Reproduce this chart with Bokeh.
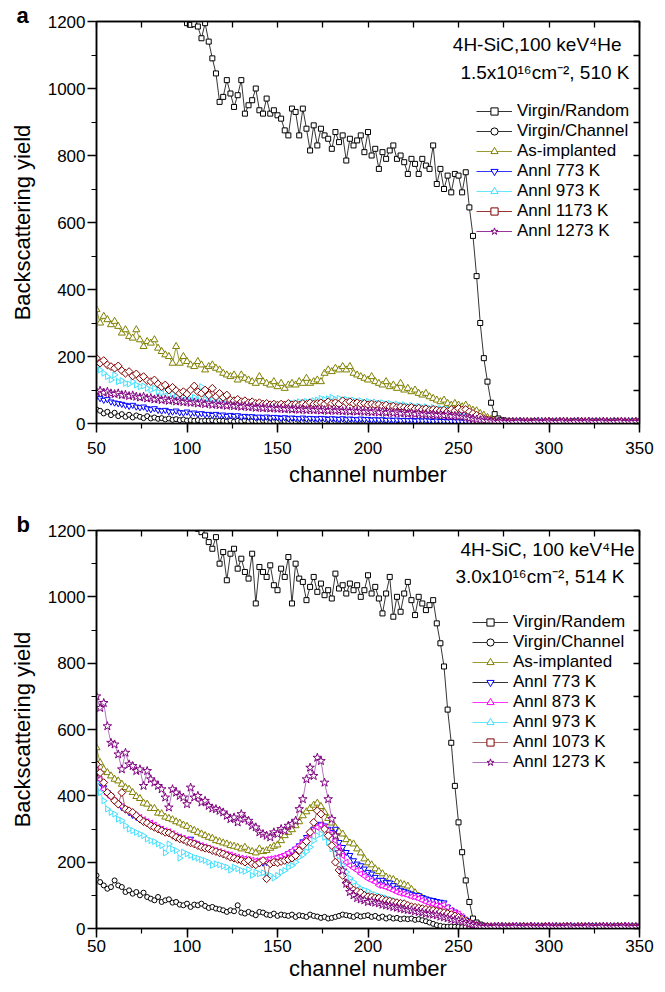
import math
from bokeh.plotting import figure
from bokeh.models import (Range1d, LinearAxis, SingleIntervalTicker, FixedTicker, Legend,
                          LegendItem, Label, Title)
from bokeh.layouts import column
from bokeh.embed import file_html
from bokeh.resources import INLINE

# channel numbers (every 2nd channel, 50..350)
CHANNELS = list(range(50, 351, 2))
# tick marks of the mirrored (label-less) top and right axes
TOP_TICKS = [50, 75, 100, 125, 150, 175, 200, 225, 250, 275, 300, 325, 350]
RIGHT_TICKS = [0, 100, 200, 300, 400, 500, 600, 700, 800, 900, 1000, 1100, 1200]

# ---------------- panel a : 1.5e16 cm-2, 510 K ----------------
A_RANDOM = [1350, 1345, 1340, 1335, 1330, 1325, 1320, 1315, 1310, 1305,
            1300, 1295, 1290, 1285, 1280, 1275, 1270, 1265, 1260, 1255,
            1250, 1240, 1230, 1220, 1210, 1195, 1190, 1192, 1185, 1150,
            1195, 1140, 1090, 1045, 960, 975, 1025, 985, 945, 980,
            1025, 925, 950, 965, 1000, 935, 925, 970, 925, 935,
            920, 910, 875, 860, 940, 930, 860, 940, 880, 815,
            890, 830, 880, 860, 850, 820, 870, 840, 860, 785,
            850, 830, 845, 860, 810, 870, 800, 820, 760, 810,
            790, 815, 830, 790, 800, 780, 745, 790, 775, 745,
            790, 770, 760, 830, 715, 760, 700, 740, 690, 745,
            740, 690, 750, 645, 560, 440, 300, 195, 125, 62,
            28, 15, 10, 8, 6, 5, 5, 6, 5, 4,
            5, 6, 5, 4, 5, 5, 6, 4, 5, 5,
            4, 5, 6, 5, 5, 4, 5, 5, 6, 5,
            5, 4, 5, 6, 5, 5, 4, 5, 5, 6,
            5]
A_CHANNEL = [42, 38, 30, 35, 25, 32, 22, 28, 20, 26,
             18, 24, 20, 16, 22, 15, 18, 14, 16, 12,
             15, 11, 13, 10, 12, 9, 10, 8, 10, 7,
             9, 8, 10, 7, 9, 8, 7, 9, 6, 8,
             7, 9, 6, 8, 7, 6, 8, 7, 5, 7,
             6, 8, 7, 5, 7, 6, 8, 6, 5, 7,
             6, 5, 7, 6, 8, 5, 6, 7, 5, 6,
             7, 5, 6, 8, 5, 6, 7, 5, 6, 5,
             7, 6, 5, 6, 7, 5, 6, 5, 7, 6,
             5, 6, 5, 7, 5, 6, 5, 6, 5, 5,
             6, 5, 5, 6, 4, 5, 5, 4, 5, 5,
             4, 5, 5, 4, 5, 5, 4, 5, 5, 4,
             5, 4, 5, 5, 4, 5, 5, 4, 5, 5,
             4, 5, 5, 4, 5, 4, 5, 5, 4, 5,
             5, 4, 5, 5, 4, 5, 5, 4, 5, 5,
             4]
A_ASIMPL = [340, 300, 320, 310, 295, 305, 290, 270, 280, 260,
            255, 280, 250, 230, 245, 240, 250, 225, 215, 205,
            200, 180, 230, 180, 200, 185, 175, 170, 185, 175,
            160, 170, 175, 165, 160, 150, 145, 140, 145, 130,
            145, 135, 130, 125, 120, 140, 125, 120, 115, 125,
            110, 120, 105, 115, 120, 115, 125, 120, 135, 120,
            125, 130, 125, 150, 160, 155, 165, 160, 170, 160,
            170, 150, 145, 140, 135, 130, 140, 125, 120, 115,
            125, 110, 115, 105, 120, 100, 105, 95, 100, 90,
            85, 90, 80, 75, 70, 65, 70, 60, 55, 60,
            55, 50, 55, 45, 40, 38, 30, 25, 18, 13,
            9, 7, 6, 5, 5, 6, 5, 4, 5, 5,
            5, 5, 4, 5, 6, 5, 5, 4, 5, 5,
            6, 5, 4, 5, 5, 5, 6, 5, 4, 5,
            5, 5, 6, 4, 5, 5, 4, 5, 6, 5,
            5]
A_773 = [80, 75, 70, 72, 65, 62, 60, 58, 55, 52,
         55, 50, 48, 50, 45, 42, 45, 40, 38, 40,
         36, 35, 38, 33, 32, 35, 30, 32, 28, 30,
         27, 28, 25, 28, 24, 26, 22, 25, 22, 24,
         20, 22, 20, 21, 18, 20, 18, 20, 17, 19,
         18, 16, 18, 15, 17, 16, 15, 17, 14, 16,
         15, 14, 16, 15, 13, 15, 14, 13, 15, 12,
         14, 13, 12, 14, 12, 13, 11, 12, 11, 12,
         10, 11, 10, 11, 9, 10, 9, 10, 8, 9,
         8, 9, 8, 7, 8, 7, 7, 6, 7, 6,
         6, 5, 6, 5, 5, 4, 5, 5, 4, 5,
         5, 4, 5, 5, 6, 5, 4, 5, 5, 4,
         5, 5, 4, 5, 5, 6, 5, 4, 5, 5,
         4, 5, 5, 6, 5, 4, 5, 5, 4, 5,
         5, 4, 5, 5, 6, 5, 4, 5, 5, 4,
         5]
A_973 = [170, 160, 150, 140, 130, 145, 125, 128, 120, 118,
         125, 115, 110, 112, 105, 100, 105, 95, 92, 95,
         85, 88, 80, 78, 82, 75, 72, 78, 70, 110,
         72, 68, 70, 65, 68, 62, 65, 60, 62, 58,
         60, 56, 58, 55, 57, 54, 56, 53, 55, 52,
         54, 55, 58, 56, 60, 62, 65, 63, 66, 64,
         68, 70, 75, 72, 74, 78, 72, 75, 70, 72,
         68, 70, 66, 68, 64, 66, 62, 64, 60, 62,
         58, 60, 56, 58, 54, 56, 52, 54, 50, 52,
         48, 50, 46, 48, 44, 45, 42, 43, 40, 40,
         38, 36, 34, 30, 26, 22, 17, 13, 10, 8,
         6, 5, 5, 4, 5, 5, 6, 5, 4, 5,
         5, 4, 5, 6, 5, 5, 4, 5, 5, 6,
         5, 5, 4, 5, 6, 5, 5, 4, 5, 5,
         4, 5, 5, 6, 5, 4, 5, 5, 6, 5,
         5]
A_1173 = [195, 180, 188, 175, 170, 165, 172, 158, 150, 155,
          142, 148, 135, 140, 128, 125, 130, 118, 110, 115,
          100, 108, 98, 90, 95, 88, 100, 112, 95, 90,
          100, 85, 105, 80, 90, 78, 85, 70, 68, 72,
          65, 68, 62, 65, 60, 62, 58, 60, 56, 58,
          55, 58, 55, 60, 56, 58, 55, 60, 57, 62,
          58, 60, 62, 58, 65, 60, 62, 58, 68, 62,
          65, 60, 62, 58, 60, 56, 58, 55, 57, 52,
          55, 50, 52, 48, 50, 48, 46, 48, 44, 46,
          42, 44, 40, 42, 40, 38, 40, 36, 42, 38,
          45, 40, 42, 35, 30, 25, 20, 15, 11, 8,
          6, 5, 5, 4, 5, 6, 5, 5, 4, 5,
          5, 6, 5, 4, 5, 5, 4, 5, 6, 5,
          4, 5, 5, 5, 6, 4, 5, 5, 5, 4,
          5, 5, 4, 6, 5, 5, 5, 4, 5, 6,
          5]
A_1273 = [95, 98, 92, 95, 90, 88, 90, 85, 86, 82,
          84, 80, 78, 80, 75, 76, 72, 74, 70, 72,
          68, 70, 66, 67, 64, 65, 62, 63, 60, 62,
          58, 60, 56, 58, 55, 56, 53, 55, 52, 53,
          50, 52, 49, 50, 47, 48, 46, 47, 45, 46,
          44, 45, 43, 44, 42, 43, 41, 42, 40, 42,
          40, 41, 39, 40, 38, 40, 38, 39, 37, 38,
          36, 38, 36, 37, 35, 36, 34, 36, 33, 35,
          32, 34, 31, 33, 30, 32, 29, 31, 28, 30,
          27, 28, 26, 27, 25, 26, 24, 25, 22, 23,
          21, 20, 18, 16, 14, 12, 10, 9, 8, 7,
          6, 5, 6, 5, 5, 4, 5, 6, 5, 5,
          4, 5, 6, 5, 5, 6, 4, 5, 5, 6,
          5, 4, 5, 6, 5, 5, 6, 4, 5, 5,
          6, 5, 4, 5, 5, 6, 5, 5, 4, 5,
          5]

# ---------------- panel b : 3.0e16 cm-2, 514 K ----------------
B_RANDOM = [1400, 1395, 1390, 1385, 1380, 1375, 1370, 1365, 1360, 1355,
            1350, 1340, 1330, 1320, 1310, 1300, 1290, 1280, 1270, 1260,
            1250, 1245, 1240, 1235, 1230, 1225, 1220, 1215, 1205, 1195,
            1185, 1165, 1145, 1180, 1100, 1135, 1050, 1130, 1145, 1085,
            1115, 1075, 1055, 1130, 980, 1090, 1075, 1060, 1095, 1035,
            1020, 1085, 1060, 1120, 980, 1100, 1055, 1045, 990, 1030,
            1060, 1015, 1040, 1005, 1020, 995, 1070, 1025, 1035, 1010,
            1040, 1020, 1035, 1000, 1020, 1065, 1010, 1030, 995, 950,
            1010, 1060, 940, 1000, 955, 1010, 1045, 990, 945, 1000,
            980, 960, 975, 990, 920, 860, 790, 660, 560, 430,
            320, 230, 145, 80, 30, 18, 12, 8, 6, 5,
            5, 4, 5, 6, 5, 5, 4, 5, 6, 5,
            5, 5, 4, 5, 6, 5, 5, 4, 5, 5,
            6, 5, 5, 4, 5, 5, 6, 5, 4, 5,
            5, 4, 5, 5, 6, 5, 4, 5, 5, 6,
            5]
B_CHANNEL = [160, 140, 130, 120, 125, 145, 130, 125, 110, 115,
             105, 110, 100, 108, 95, 90, 85, 95, 80, 85,
             88, 78, 80, 72, 70, 75, 65, 72, 70, 75,
             68, 62, 65, 60, 58, 55, 50, 55, 52, 70,
             48, 45, 50, 45, 40, 50, 48, 42, 40, 45,
             38, 42, 40, 38, 42, 35, 40, 38, 35, 42,
             38, 36, 32, 35, 30, 32, 35, 38, 42, 40,
             38, 35, 40, 36, 38, 40, 35, 38, 32, 36,
             30, 34, 30, 32, 28, 30, 28, 30, 26, 28,
             25, 22, 18, 14, 10, 8, 6, 5, 6, 5,
             5, 4, 5, 5, 6, 4, 5, 5, 4, 5,
             5, 5, 4, 5, 5, 4, 5, 5, 4, 5,
             4, 5, 5, 4, 5, 5, 4, 5, 5, 4,
             5, 4, 5, 5, 4, 5, 5, 4, 5, 5,
             4, 5, 5, 4, 5, 4, 5, 5, 4, 5,
             5]
B_ASIMPL = [545, 500, 480, 470, 460, 450, 445, 435, 425, 420,
            410, 398, 392, 378, 375, 362, 362, 348, 346, 336,
            332, 328, 322, 318, 312, 308, 300, 296, 290, 285,
            280, 275, 272, 265, 262, 258, 255, 250, 248, 245,
            240, 245, 235, 232, 228, 240, 232, 235, 242, 248,
            252, 265, 280, 290, 298, 310, 322, 340, 352, 362,
            372, 378, 368, 350, 332, 318, 305, 292, 285, 268,
            258, 255, 240, 228, 210, 198, 192, 180, 172, 165,
            155, 150, 148, 140, 135, 132, 128, 118, 108, 98,
            92, 85, 82, 75, 70, 65, 58, 52, 45, 40,
            32, 26, 20, 14, 9, 6, 5, 5, 4, 5,
            5, 4, 5, 5, 6, 5, 4, 5, 5, 5,
            6, 5, 4, 5, 5, 4, 5, 6, 5, 5,
            5, 5, 4, 5, 6, 5, 5, 4, 5, 5,
            4, 5, 6, 5, 5, 4, 5, 5, 6, 5,
            5]
B_773 = [470, 440, 425, 410, 400, 385, 375, 365, 358, 350,
         342, 336, 330, 325, 318, 312, 306, 302, 296, 292,
         288, 282, 278, 272, 268, 264, 270, 258, 252, 248,
         244, 240, 236, 232, 228, 225, 222, 218, 215, 212,
         210, 206, 204, 200, 198, 196, 198, 200, 204, 208,
         212, 216, 220, 226, 232, 240, 250, 262, 275, 288,
         300, 310, 315, 310, 300, 290, 300, 260, 245, 230,
         221, 205, 195, 190, 180, 170, 165, 155, 146, 146,
         140, 138, 130, 122, 116, 112, 108, 104, 101, 100,
         94, 90, 87, 85, 82, 80, 78, 65, 55, 50,
         40, 34, 26, 18, 12, 8, 6, 5, 5, 4,
         5, 5, 4, 5, 6, 5, 5, 4, 5, 5,
         4, 5, 5, 6, 5, 4, 5, 5, 4, 5,
         5, 4, 5, 5, 6, 5, 4, 5, 5, 4,
         5, 5, 4, 5, 5, 6, 5, 4, 5, 5,
         4]
B_873 = [480, 450, 420, 405, 395, 385, 375, 368, 360, 352,
         345, 340, 335, 328, 322, 318, 312, 305, 300, 295,
         292, 286, 280, 276, 272, 268, 262, 258, 254, 250,
         246, 242, 238, 235, 232, 228, 224, 222, 218, 215,
         212, 210, 208, 206, 204, 205, 206, 208, 210, 212,
         214, 218, 222, 228, 234, 242, 250, 260, 270, 282,
         295, 305, 312, 305, 295, 285, 265, 245, 220, 200,
         190, 182, 175, 165, 158, 150, 145, 140, 130, 128,
         124, 120, 115, 110, 106, 104, 100, 96, 94, 90,
         85, 80, 76, 74, 70, 68, 72, 64, 55, 48,
         44, 36, 26, 18, 12, 8, 6, 5, 5, 4,
         5, 4, 5, 5, 5, 6, 4, 5, 5, 5,
         5, 5, 4, 5, 6, 5, 5, 4, 5, 5,
         4, 5, 6, 5, 5, 4, 5, 5, 5, 6,
         5, 4, 5, 5, 4, 5, 6, 5, 5, 4,
         5]
B_973 = [440, 410, 385, 360, 350, 345, 330, 325, 310, 300,
         295, 290, 285, 280, 270, 265, 262, 255, 250, 228,
         255, 240, 235, 212, 230, 225, 220, 215, 212, 208,
         205, 200, 190, 195, 192, 188, 185, 176, 185, 180,
         175, 172, 178, 160, 170, 165, 168, 150, 160, 152,
         160, 170, 175, 185, 190, 200, 215, 222, 232, 245,
         265, 280, 285, 275, 260, 240, 225, 205, 190, 170,
         152, 140, 128, 120, 116, 112, 105, 102, 98, 95,
         92, 88, 85, 80, 77, 74, 70, 66, 64, 60,
         58, 55, 54, 52, 50, 50, 46, 44, 40, 38,
         33, 28, 22, 16, 10, 7, 5, 5, 4, 5,
         5, 5, 4, 6, 5, 5, 4, 5, 5, 6,
         5, 4, 5, 5, 5, 6, 5, 4, 5, 5,
         5, 5, 6, 4, 5, 5, 4, 5, 6, 5,
         4, 5, 5, 5, 6, 5, 5, 4, 5, 5,
         5]
B_1073 = [495, 470, 440, 410, 400, 385, 375, 410, 360, 355,
          350, 340, 330, 322, 318, 310, 305, 300, 295, 290,
          288, 282, 275, 270, 268, 262, 258, 255, 250, 245,
          242, 240, 235, 232, 228, 225, 220, 215, 212, 208,
          205, 200, 205, 195, 192, 198, 205, 150, 195, 200,
          198, 202, 205, 208, 212, 220, 235, 250, 262, 290,
          320, 355, 345, 300, 280, 250, 200, 176, 160, 138,
          125, 116, 112, 108, 100, 96, 95, 92, 92, 88,
          85, 83, 80, 78, 76, 75, 70, 66, 64, 62,
          60, 58, 56, 55, 52, 50, 48, 45, 42, 38,
          34, 28, 24, 18, 12, 8, 6, 5, 5, 4,
          5, 5, 6, 4, 5, 5, 5, 4, 6, 5,
          5, 4, 5, 5, 6, 5, 4, 5, 5, 5,
          6, 5, 4, 5, 5, 5, 4, 6, 5, 5,
          5, 5, 4, 5, 6, 5, 5, 4, 5, 5,
          4]
B_1273 = [700, 665, 680, 610, 560, 555, 525, 480, 530, 495,
          490, 475, 480, 430, 475, 450, 440, 430, 420, 395,
          365, 420, 410, 400, 395, 375, 425, 395, 400, 380,
          385, 370, 362, 360, 355, 350, 340, 330, 335, 320,
          345, 330, 325, 310, 305, 290, 285, 280, 275, 290,
          285, 300, 295, 310, 315, 325, 360, 390, 450, 485,
          460, 515, 505, 440, 390, 330, 280, 230, 175, 135,
          110, 100, 92, 88, 85, 80, 82, 78, 76, 72,
          70, 68, 65, 63, 60, 58, 56, 55, 52, 50,
          48, 45, 44, 42, 40, 36, 34, 31, 28, 26,
          24, 20, 17, 14, 11, 8, 6, 5, 5, 4,
          5, 6, 5, 5, 4, 5, 6, 5, 5, 4,
          6, 5, 5, 4, 5, 6, 5, 5, 4, 5,
          5, 6, 4, 5, 5, 5, 6, 4, 5, 5,
          6, 5, 5, 4, 5, 5, 6, 5, 4, 5,
          5]

A_LABELS = ["Virgin/Random", "Virgin/Channel", "As-implanted", "Annl 773 K",
            "Annl 973 K", "Annl 1173 K", "Annl 1273 K"]
B_LABELS = ["Virgin/Randem", "Virgin/Channel", "As-implanted", "Annl 773 K",
            "Annl 873 K", "Annl 973 K", "Annl 1073 K", "Annl 1273 K"]
A_NOTE = ["4H-SiC,100 keV\u2074He", "1.5x10\u00b9\u2076cm\u207b\u00b2, 510 K"]
B_NOTE = ["4H-SiC, 100 keV\u2074He", "3.0x10\u00b9\u2076cm\u207b\u00b2, 514 K"]

for arr in (A_RANDOM, A_CHANNEL, A_ASIMPL, A_773, A_973, A_1173, A_1273,
            B_RANDOM, B_CHANNEL, B_ASIMPL, B_773, B_873, B_973, B_1073, B_1273):
    assert len(arr) == len(CHANNELS), len(arr)

FONT = "Liberation Sans"
BLACK = "black"
OLIVE = "#808000"
BLUE = "#0000FF"
MAGENTA = "#FF00FF"
CYAN = "#40E0FF"
MAROON = "#800000"
PURPLE = "#800080"

# style per series: (marker colour, line colour, marker, size, angle)
A_STYLE = [
    (BLACK, BLACK, "square", 5, 0),
    (BLACK, BLACK, "circle", 5, 0),
    (OLIVE, OLIVE, "triangle", 7, 0),
    (BLUE, BLUE, "inverted_triangle", 6, 0),
    (CYAN, CYAN, "triangle", 6, -math.pi / 2),
    (MAROON, MAROON, "square", 5.5, math.pi / 4),
    (PURPLE, PURPLE, "star", 9, 0),
]
B_STYLE = [
    (BLACK, BLACK, "square", 5, 0),
    (BLACK, BLACK, "circle", 5, 0),
    (OLIVE, OLIVE, "triangle", 7, 0),
    (BLUE, BLACK, "inverted_triangle", 6, 0),
    (MAGENTA, MAGENTA, "triangle", 6, math.pi / 2),
    (CYAN, CYAN, "triangle", 6, -math.pi / 2),
    (MAROON, "#904040", "square", 5.5, math.pi / 4),
    (PURPLE, "#A050B0", "star", 9, 0),
]


def make_panel(series, styles, labels, notes, note_pos, height, top_b, bottom_b,
               tick_standoff, title_standoff, legend_loc, letter):
    p = figure(width=655, height=height, x_range=Range1d(50, 350), y_range=Range1d(0, 1200),
               output_backend="svg", toolbar_location=None,
               min_border_left=96, min_border_right=16, min_border_top=top_b,
               min_border_bottom=bottom_b)
    p.title = Title(text=letter, align="left", offset=-80, standoff=-13,
                    text_font=FONT, text_font_size="22px", text_font_style="bold",
                    text_color="black")
    p.grid.visible = False
    p.outline_line_color = "black"
    p.outline_line_width = 1.5
    p.background_fill_color = "white"
    p.border_fill_color = "white"

    xa = p.xaxis[0]
    ya = p.yaxis[0]
    xa.ticker = SingleIntervalTicker(interval=50, num_minor_ticks=2)
    ya.ticker = SingleIntervalTicker(interval=200, num_minor_ticks=2)
    for ax in (xa, ya):
        ax.axis_line_width = 1.5
        ax.major_tick_line_width = 1.5
        ax.minor_tick_line_width = 1.2
        ax.major_tick_in = 0
        ax.major_tick_out = 9
        ax.minor_tick_in = 0
        ax.minor_tick_out = 5
        ax.major_label_text_font = FONT
        ax.major_label_text_font_size = "17px"
        ax.major_label_text_color = "black"
        ax.axis_label_text_font = FONT
        ax.axis_label_text_font_size = "22px"
        ax.axis_label_text_font_style = "normal"
        ax.axis_label_text_color = "black"
    xa.axis_label = "channel number"
    ya.axis_label = "Backscattering yield"
    xa.major_label_standoff = tick_standoff
    xa.axis_label_standoff = title_standoff
    ya.major_label_standoff = 2
    ya.axis_label_standoff = 10

    # mirrored axes: only inward tick marks, no labels
    top = LinearAxis(ticker=FixedTicker(ticks=[], minor_ticks=TOP_TICKS))
    right = LinearAxis(ticker=FixedTicker(ticks=[], minor_ticks=RIGHT_TICKS))
    for ax in (top, right):
        ax.axis_line_width = 1.5
        ax.minor_tick_line_width = 1.3
        ax.major_tick_in = 0
        ax.major_tick_out = 0
        ax.minor_tick_in = 6
        ax.minor_tick_out = 0
        ax.major_label_standoff = 0
    p.add_layout(top, "above")
    p.add_layout(right, "right")

    items = []
    for vals, (mc, lc, mk, sz, ang), lab in zip(series, styles, labels):
        rl = p.line(CHANNELS, vals, line_color=lc, line_width=0.8)
        rs = p.scatter(CHANNELS, vals, marker=mk, size=sz, angle=ang, line_color=mc,
                       fill_color="white", line_width=1.0)
        items.append(LegendItem(label=lab, renderers=[rl, rs]))

    leg = Legend(items=items, location=legend_loc, padding=0, margin=0, spacing=0,
                 glyph_width=36, glyph_height=18, label_height=18, label_standoff=5,
                 border_line_color=None, background_fill_alpha=0,
                 label_text_font=FONT, label_text_font_size="17px", label_text_color="black")
    p.add_layout(leg, "center")

    for txt, (xo, yo) in zip(notes, note_pos):
        p.add_layout(Label(x=350, y=1200, x_offset=xo, y_offset=yo, text=txt,
                           text_font=FONT, text_font_size="19px", text_align="right",
                           text_baseline="alphabetic", text_color="black"))
    return p


pa = make_panel([A_RANDOM, A_CHANNEL, A_ASIMPL, A_773, A_973, A_1173, A_1273],
                A_STYLE, A_LABELS, A_NOTE, [(-18, -23), (-10, -51)],
                height=490, top_b=21, bottom_b=67, tick_standoff=9, title_standoff=5,
                legend_loc=(380, 182), letter="a")

pb = make_panel([B_RANDOM, B_CHANNEL, B_ASIMPL, B_773, B_873, B_973, B_1073, B_1273],
                B_STYLE, B_LABELS, B_NOTE, [(-5, -19), (-15, -46)],
                height=494, top_b=40, bottom_b=56, tick_standoff=2, title_standoff=1,
                legend_loc=(376, 156), letter="b")

layout = column(pa, pb, spacing=0)
open("out.html", "w").write(file_html(layout, INLINE))
